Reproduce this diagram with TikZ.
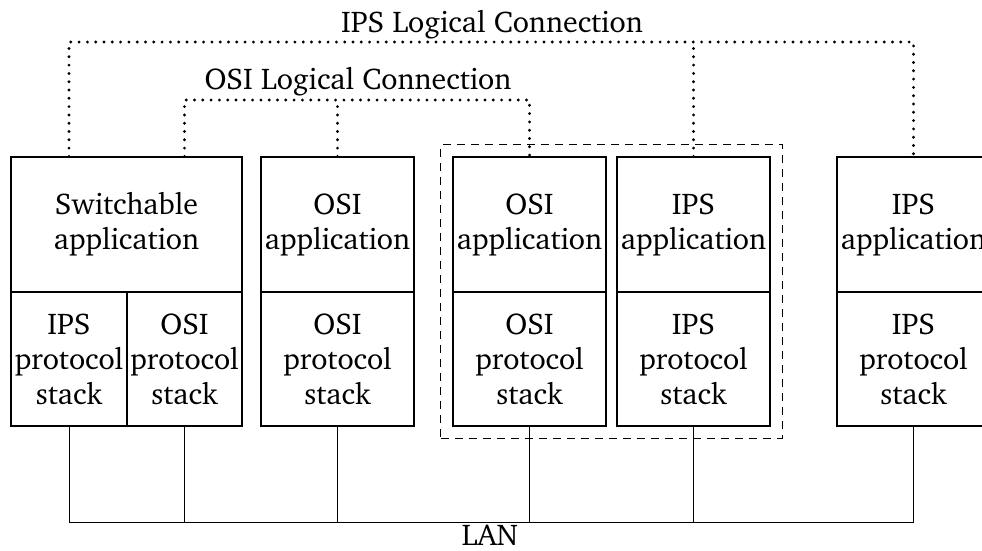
\documentclass[tikz,border=0pt]{standalone}
\usepackage[T1]{fontenc}
\usepackage{charter}
\usetikzlibrary{fit}
\tikzset{
  layer/.style={draw, line width=1.2pt, inner sep=0pt, align=center,
    font=\fontsize{30}{35}\selectfont},
  appbox/.style={layer, minimum width=153pt, minimum height=135pt},
  stackbox/.style={layer, minimum width=153pt, minimum height=134pt},
  dotline/.style={line width=3.2pt, line cap=round, dash pattern=on 0pt off 8.3pt},
  wire/.style={line width=1pt},
  group/.style={draw, line width=1pt, dash pattern=on 8pt off 6pt, inner sep=11.5pt},
  title/.style={font=\fontsize{30}{35}\selectfont, inner sep=0pt}
}
\begin{document}
\begin{tikzpicture}[x=1pt, y=-1pt]
  \useasboundingbox (0,0) rectangle (982,550);
  \clip (0,0) rectangle (982,550);

  % dual-stack host
  \node[appbox, minimum width=231pt] (appA) at (126.5,224.5) {Switchable\\application};
  \node[stackbox, minimum width=116pt] (ipsA) at (69,359) {IPS\\protocol\\stack};
  \node[stackbox, minimum width=115pt] (osiA) at (184.5,359) {OSI\\protocol\\stack};

  % OSI host
  \node[appbox] (app2) at (337.5,224.5) {OSI\\application};
  \node[stackbox] (stk2) at (337.5,359) {OSI\\protocol\\stack};

  % gateway pair
  \node[appbox] (app3) at (529.5,224.5) {OSI\\application};
  \node[stackbox] (stk3) at (529.5,359) {OSI\\protocol\\stack};
  \node[appbox] (app4) at (693.5,224.5) {IPS\\application};
  \node[stackbox] (stk4) at (693.5,359) {IPS\\protocol\\stack};
  \node[group, fit=(app3)(stk4)] (gw) {};

  % IPS host
  \node[appbox] (app6) at (913.5,224.5) {IPS\\application};
  \node[stackbox] (stk6) at (913.5,359) {IPS\\protocol\\stack};

  % logical connections
  \coordinate (ipsbar) at (0,42);
  \coordinate (osibar) at (0,100);
  \node[title, anchor=base] (ipstitle) at (492,32) {IPS Logical Connection};
  \node[title, anchor=base] (osititle) at (358,89) {OSI Logical Connection};
  \draw[dotline] (ipsA.center |- appA.north) -- (ipsA.center |- ipsbar) -| (app6.north);
  \draw[dotline] (app4.north) -- (app4.north |- ipsbar);
  \draw[dotline] (osiA.center |- appA.north) -- (osiA.center |- osibar) -| (app3.north);
  \draw[dotline] (app2.north) -- (app2.north |- osibar);

  % LAN
  \coordinate (lanbar) at (0,522);
  \draw[wire] (ipsA.south) -- (ipsA.south |- lanbar) -| (stk6.south);
  \draw[wire] (osiA.south) -- (osiA.south |- lanbar);
  \draw[wire] (stk2.south) -- (stk2.south |- lanbar);
  \draw[wire] (stk3.south) -- (stk3.south |- lanbar);
  \draw[wire] (stk4.south) -- (stk4.south |- lanbar);
  \node[title] (lan) at (490,535.5) {LAN};
\end{tikzpicture}
\end{document}
